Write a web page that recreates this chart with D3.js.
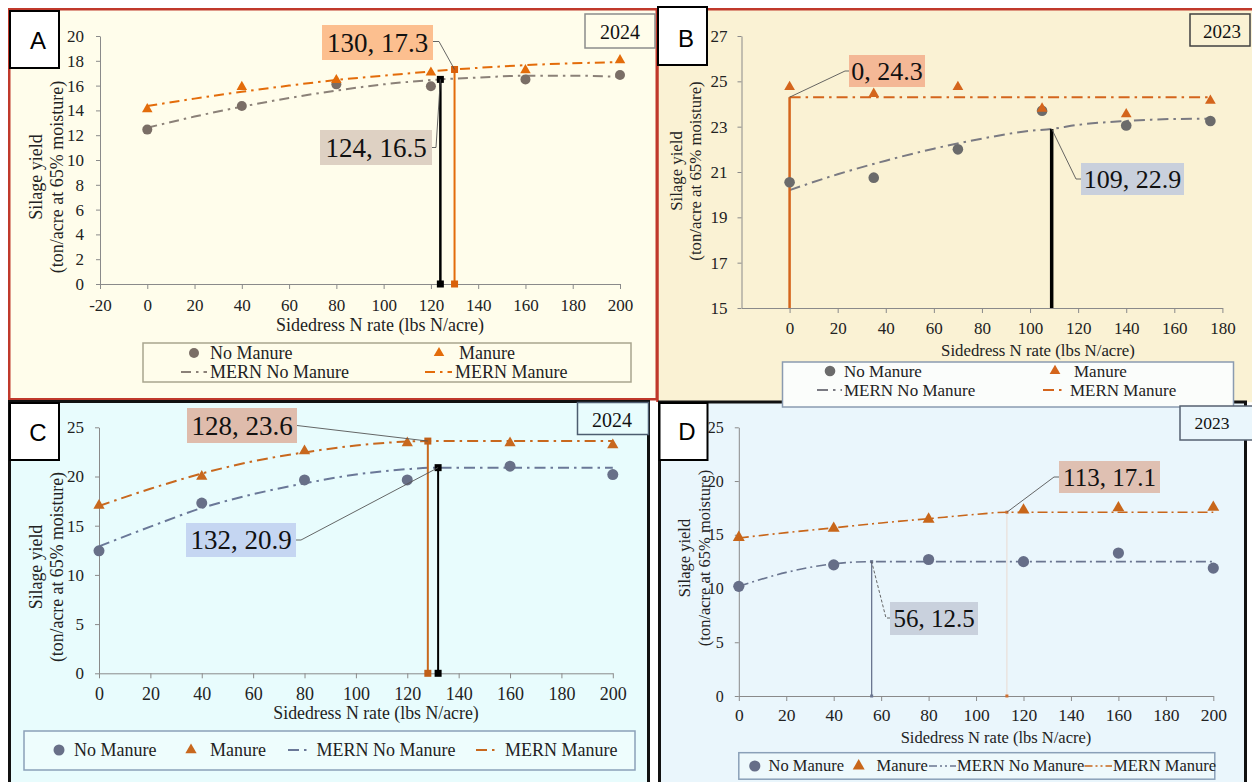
<!DOCTYPE html>
<html><head><meta charset="utf-8">
<script src="https://cdn.jsdelivr.net/npm/d3@7"></script>
<style>body{margin:0;background:#fff;} svg{display:block;} text{font-family:'Liberation Serif','Times New Roman',serif;}</style>
</head><body><svg id="c" width="1252" height="782"></svg>
<script>
// ---------------- DATA ----------------
// Panel A (2024)
const ratesA = [0, 40, 80, 120, 160, 200];
const noManureA = [12.45, 14.35, 16.1, 15.95, 16.5, 16.85];
const manureA = [14.1, 15.9, 16.45, 17.05, 17.25, 18.05];
const mernNoXA = [0, 20, 40, 60, 80, 100, 124, 140, 160, 180, 200];
const mernNoYA = [12.6, 13.5, 14.3, 15.0, 15.6, 16.1, 16.5, 16.65, 16.8, 16.8, 16.7];
const mernManXA = [0, 20, 40, 60, 80, 100, 130, 160, 200];
const mernManYA = [14.35, 14.95, 15.5, 16.0, 16.45, 16.8, 17.3, 17.65, 17.9];
const optNoA = [124, 16.5];
const optManA = [130, 17.3];
const xTicksA = [-20, 0, 20, 40, 60, 80, 100, 120, 140, 160, 180, 200];
const yTicksA = [0, 2, 4, 6, 8, 10, 12, 14, 16, 18, 20];

// Panel B (2023)
const ratesB = [0, 35, 70, 105, 140, 175];
const noManureB = [20.55, 20.75, 22.0, 23.7, 23.05, 23.25];
const manureB = [24.75, 24.45, 24.75, 23.8, 23.55, 24.15];
const mernNoXB = [0, 20, 40, 60, 80, 100, 109, 120, 140, 160, 175];
const mernNoYB = [20.2, 20.9, 21.5, 22.03, 22.47, 22.82, 22.9, 23.08, 23.25, 23.34, 23.35];
const mernManXB = [0, 175];
const mernManYB = [24.3, 24.3];
const optNoB = [109, 22.9];
const optManB = [0, 24.3];
const xTicksB = [0, 20, 40, 60, 80, 100, 120, 140, 160, 180];
const yTicksB = [15, 17, 19, 21, 23, 25, 27];

// Panel C (2024)
const ratesC = [0, 40, 80, 120, 160, 200];
const noManureC = [12.45, 17.3, 19.65, 19.65, 21.05, 20.2];
const manureC = [17.05, 20.0, 22.6, 23.4, 23.4, 23.2];
const mernNoXC = [0, 20, 40, 60, 80, 100, 120, 132, 160, 200];
const mernNoYC = [12.9, 14.9, 16.8, 18.2, 19.3, 20.2, 20.75, 20.9, 20.9, 20.9];
const mernManXC = [0, 20, 40, 60, 80, 100, 120, 128, 160, 200];
const mernManYC = [17.0, 18.75, 20.3, 21.55, 22.45, 23.15, 23.55, 23.6, 23.6, 23.6];
const optNoC = [132, 20.9];
const optManC = [128, 23.6];
const xTicksC = [0, 20, 40, 60, 80, 100, 120, 140, 160, 180, 200];
const yTicksC = [0, 5, 10, 15, 20, 25];

// Panel D (2023)
const ratesD = [0, 40, 80, 120, 160, 200];
const noManureD = [10.2, 12.2, 12.7, 12.5, 13.3, 11.9];
const manureD = [14.75, 15.6, 16.45, 17.3, 17.5, 17.55];
const mernNoXD = [0, 20, 40, 56, 80, 120, 160, 200];
const mernNoYD = [10.2, 11.5, 12.3, 12.5, 12.5, 12.5, 12.5, 12.5];
const mernManXD = [0, 20, 40, 60, 80, 100, 113, 140, 200];
const mernManYD = [14.7, 15.2, 15.65, 16.1, 16.5, 16.9, 17.1, 17.1, 17.1];
const optNoD = [56, 12.5];
const optManD = [113, 17.1];
const xTicksD = [0, 20, 40, 60, 80, 100, 120, 140, 160, 180, 200];
const yTicksD = [0, 5, 10, 15, 20, 25];

const legendNames = ["No Manure", "Manure", "MERN No Manure", "MERN Manure"];
const axisTitleX = "Sidedress N rate (lbs N/acre)";
const axisTitleY = ["Silage yield", "(ton/acre at 65% moisture)"];

// ---------------- DRAWING ----------------
const SERIF = "'Liberation Serif','Times New Roman',serif";
const SANS = "'Liberation Sans',Arial,sans-serif";
const svg = d3.select('#c');
svg.append('rect').attr('width', 1252).attr('height', 782).attr('fill', '#fff');

// frames
svg.append('rect').attr('x', 9.25).attr('y', 9.25).attr('width', 647.5).attr('height', 390)
  .attr('fill', '#fffdeb').attr('stroke', '#c0392b').attr('stroke-width', 2.5);
svg.append('rect').attr('x', 657.5).attr('y', 9.25).attr('width', 600).attr('height', 393)
  .attr('fill', '#faf2d4');
svg.append('path').attr('d', 'M657.5,402 V9.25 H1252').attr('fill', 'none')
  .attr('stroke', '#c0392b').attr('stroke-width', 2.5);
svg.append('rect').attr('x', 9.5).attr('y', 401.5).attr('width', 639).attr('height', 400)
  .attr('fill', '#e8fcfd').attr('stroke', '#111').attr('stroke-width', 3);
svg.append('rect').attr('x', 659.5).attr('y', 402).attr('width', 586).attr('height', 400)
  .attr('fill', '#eaf6fc').attr('stroke', '#111').attr('stroke-width', 3);

function drawPanel(P) {
  const g = svg.append('g');
  const x = d3.scaleLinear().domain(P.xDomain).range(P.xRange);
  const y = d3.scaleLinear().domain(P.yDomain).range(P.yRange);
  const ac = '#8a8a8a';
  const ya = g.append('g').attr('transform', `translate(${P.xRange[0]},0)`)
    .call(d3.axisLeft(y).tickValues(P.yTicks).tickSize(4).tickSizeOuter(0).tickPadding(P.yPad).tickFormat(d => String(d)));
  const xa = g.append('g').attr('transform', `translate(0,${P.yRange[0]})`)
    .call(d3.axisBottom(x).tickValues(P.xTicks).tickSize(5).tickSizeOuter(0).tickPadding(P.xPad).tickFormat(d => String(d)));
  [ya, xa].forEach(a => {
    a.attr('font-family', SERIF);
    a.select('.domain').attr('stroke', ac);
    a.selectAll('.tick line').attr('stroke', ac);
  });
  ya.selectAll('text').attr('font-family', SERIF).attr('font-size', P.yTickFs).attr('fill', '#222');
  xa.selectAll('text').attr('font-family', SERIF).attr('font-size', P.xTickFs).attr('fill', '#222');

  // axis titles
  g.append('text').attr('x', P.xTitle[0]).attr('y', P.xTitle[1]).attr('dy', '0.35em')
    .attr('text-anchor', 'middle').attr('font-family', SERIF).attr('font-size', P.titleFs)
    .attr('fill', '#222').text(axisTitleX);
  axisTitleY.forEach((t, i) => {
    g.append('text').attr('transform', `translate(${P.yTitleX[i]},${P.yTitleY}) rotate(-90)`)
      .attr('dy', '0.35em').attr('text-anchor', 'middle').attr('font-family', SERIF)
      .attr('font-size', P.titleFs).attr('fill', '#222').text(t);
  });

  // MERN curves
  const line = d3.line().x(d => x(d[0])).y(d => y(d[1])).curve(d3.curveMonotoneX);
  g.append('path').datum(d3.zip(P.mernNoX, P.mernNoY)).attr('d', line).attr('fill', 'none')
    .attr('stroke', P.noLine).attr('stroke-width', P.lw).attr('stroke-dasharray', P.dash);
  g.append('path').datum(d3.zip(P.mernManX, P.mernManY)).attr('d', line).attr('fill', 'none')
    .attr('stroke', P.manColor).attr('stroke-width', P.lw).attr('stroke-dasharray', P.dash);

  // vertical optimum lines
  const y0 = P.yDomain[0];
  const vlines = [
    { p: P.optMan, c: P.vManColor, w: P.vManW, sq: P.sqMan },
    { p: P.optNo, c: P.vNoColor, w: P.vNoW, sq: P.sqNo }
  ];
  vlines.forEach(v => {
    g.append('line').attr('x1', x(v.p[0])).attr('x2', x(v.p[0])).attr('y1', y(y0)).attr('y2', y(v.p[1]))
      .attr('stroke', v.c).attr('stroke-width', v.w);
  });

  // data markers
  g.selectAll('.nm').data(d3.zip(P.rates, P.noManure)).join('circle')
    .attr('cx', d => x(d[0])).attr('cy', d => y(d[1])).attr('r', P.r).attr('fill', P.noColor);
  const tri = d3.symbol().type(d3.symbolTriangle).size(P.triSize);
  g.selectAll('.mm').data(d3.zip(P.rates, P.manure)).join('path')
    .attr('transform', d => `translate(${x(d[0])},${y(d[1])})`).attr('d', tri).attr('fill', P.manColor);

  // square markers at ends of optimum lines
  vlines.forEach(v => {
    if (!v.sq) return;
    [[v.p[0], y0], v.p].forEach(pt => {
      g.append('rect').attr('x', x(pt[0]) - v.sq.s / 2).attr('y', y(pt[1]) - v.sq.s / 2)
        .attr('width', v.sq.s).attr('height', v.sq.s).attr('fill', v.sq.fill);
    });
  });

  // data labels
  const labels = [
    { p: P.optMan, box: P.boxMan, fill: P.boxManFill, lead: P.leadMan },
    { p: P.optNo, box: P.boxNo, fill: P.boxNoFill, lead: P.leadNo }
  ];
  labels.forEach(L => {
    const pts = L.lead.concat([[x(L.p[0]), y(L.p[1])]]);
    g.append('path').attr('d', d3.line()(pts)).attr('fill', 'none').attr('stroke', '#555')
      .attr('stroke-width', 0.9).attr('stroke-dasharray', L.lead.dash || null);
    const [bx, by, bw, bh] = L.box;
    g.append('rect').attr('x', bx).attr('y', by).attr('width', bw).attr('height', bh).attr('fill', L.fill);
    g.append('text').attr('x', bx + bw / 2).attr('y', by + bh / 2).attr('dy', '0.35em')
      .attr('text-anchor', 'middle').attr('font-family', SERIF).attr('font-size', P.labelFs)
      .attr('fill', '#111').text(`${L.p[0]}, ${L.p[1]}`);
  });

  // legend
  const Lg = P.legend;
  g.append('rect').attr('x', Lg.box[0]).attr('y', Lg.box[1]).attr('width', Lg.box[2]).attr('height', Lg.box[3])
    .attr('fill', Lg.fill).attr('stroke', Lg.stroke).attr('stroke-width', 1.5);
  const it = Lg.items;
  g.append('circle').attr('cx', it[0][0]).attr('cy', it[0][1]).attr('r', P.r).attr('fill', P.noColor);
  g.append('path').attr('transform', `translate(${it[1][0]},${it[1][1]})`).attr('d', tri).attr('fill', P.manColor);
  g.append('line').attr('x1', it[2][0]).attr('x2', it[2][2]).attr('y1', it[2][1]).attr('y2', it[2][1])
    .attr('stroke', P.noLine).attr('stroke-width', P.lw).attr('stroke-dasharray', Lg.dash);
  g.append('line').attr('x1', it[3][0]).attr('x2', it[3][2]).attr('y1', it[3][1]).attr('y2', it[3][1])
    .attr('stroke', P.manColor).attr('stroke-width', P.lw).attr('stroke-dasharray', Lg.dash);
  legendNames.forEach((n, i) => {
    g.append('text').attr('x', Lg.tx[i]).attr('y', it[i][1]).attr('dy', '0.33em')
      .attr('font-family', SERIF).attr('font-size', Lg.fs).attr('fill', '#222').text(n);
  });

  // panel letter & year
  const [lx, ly, lw2, lh] = P.letterBox;
  g.append('rect').attr('x', lx).attr('y', ly).attr('width', lw2).attr('height', lh)
    .attr('fill', '#fff').attr('stroke', '#000').attr('stroke-width', 2);
  g.append('text').attr('x', P.letterPos[0]).attr('y', P.letterPos[1]).attr('dy', '0.36em')
    .attr('text-anchor', 'middle').style('font-family', SANS).attr('font-size', 24).attr('fill', '#000').text(P.letter);
  const [yx, yy, yw, yh] = P.yearBox;
  g.append('rect').attr('x', yx).attr('y', yy).attr('width', yw).attr('height', yh)
    .attr('fill', P.yearFill).attr('stroke', P.yearStroke).attr('stroke-width', 1.5);
  g.append('text').attr('x', P.yearPos[0]).attr('y', P.yearPos[1]).attr('dy', '0.35em')
    .attr('text-anchor', 'middle').attr('font-family', SERIF).attr('font-size', P.yearFs).attr('fill', '#111').text(P.year);
}

// Panel A
drawPanel({
  letter: 'A', year: '2024',
  xDomain: [-20, 200], xRange: [100, 620], yDomain: [0, 20], yRange: [284, 36],
  xTicks: xTicksA, yTicks: yTicksA, yPad: 12, xPad: 10, xTickFs: 17, yTickFs: 17,
  xTitle: [380, 325], yTitleX: [36, 57], yTitleY: 177, titleFs: 18,
  rates: ratesA, noManure: noManureA, manure: manureA,
  mernNoX: mernNoXA, mernNoY: mernNoYA, mernManX: mernManXA, mernManY: mernManYA,
  optNo: optNoA, optMan: optManA,
  noColor: '#7a6e66', noLine: '#8b8178', manColor: '#e36c0a', lw: 2, dash: '10,5,2.5,5',
  r: 5, triSize: 48,
  vManColor: '#e36c0a', vManW: 2, vNoColor: '#000', vNoW: 2.5,
  sqMan: { s: 7, fill: '#d9600a' }, sqNo: { s: 7, fill: '#000' },
  boxMan: [322, 25, 111, 35], boxManFill: '#fcbf8f', leadMan: [[433, 41.5], [439, 41.5]],
  boxNo: [320, 130, 112, 35], boxNoFill: '#ded1c3', leadNo: [[432, 147.5], [436, 147.5]],
  labelFs: 27,
  legend: { box: [143, 343, 488, 39], fill: '#fffdeb', stroke: '#a9a58f', fs: 18, dash: '10,5,2.5,5',
    items: [[194, 353], [439, 353], [181, 372, 207], [425, 372, 452]], tx: [210, 459, 210, 455] },
  letterBox: [10, 11, 49, 57], letterPos: [38, 40],
  yearBox: [585, 14, 70, 34], yearPos: [620, 31.5], yearFs: 20, yearFill: '#fffdeb', yearStroke: '#8c8c8c'
});

// Panel B
drawPanel({
  letter: 'B', year: '2023',
  xDomain: [-20, 180], xRange: [741.5, 1222.4], yDomain: [15, 27], yRange: [308, 36],
  xTicks: xTicksB, yTicks: yTicksB, yPad: 10, xPad: 9, xTickFs: 17, yTickFs: 17,
  xTitle: [1038, 350], yTitleX: [676, 695], yTitleY: 171, titleFs: 16.8,
  rates: ratesB, noManure: noManureB, manure: manureB,
  mernNoX: mernNoXB, mernNoY: mernNoYB, mernManX: mernManXB, mernManY: mernManYB,
  optNo: optNoB, optMan: optManB,
  noColor: '#6b6b6b', noLine: '#7a7a82', manColor: '#d4651c', lw: 2, dash: '11,5,2.5,5',
  r: 5.3, triSize: 50,
  vManColor: '#d4651c', vManW: 2.5, vNoColor: '#000', vNoW: 3.5,
  sqMan: null, sqNo: null,
  boxMan: [849, 55, 76, 32], boxManFill: '#f4b896', leadMan: [[849, 71], [845, 71]],
  boxNo: [1081, 163, 103, 32], boxNoFill: '#c9d0dc', leadNo: [[1081, 179], [1076, 179]],
  labelFs: 26,
  legend: { box: [782.5, 362, 451, 45], fill: '#fbfdfb', stroke: '#8a9bb0', fs: 17, dash: '11,5,2.5,5',
    items: [[830, 371], [1055, 371], [817, 390, 842], [1043, 390, 1066]], tx: [844, 1074, 844, 1070] },
  letterBox: [658, 7, 49, 58], letterPos: [686, 38.5],
  yearBox: [1190, 14, 60, 32], yearPos: [1222, 31], yearFs: 19, yearFill: '#faf2d4', yearStroke: '#404040'
});

// Panel C
drawPanel({
  letter: 'C', year: '2024',
  xDomain: [0, 200], xRange: [99, 612.8], yDomain: [0, 25], yRange: [673.3, 427.3],
  xTicks: xTicksC, yTicks: yTicksC, yPad: 11, xPad: 9, xTickFs: 18, yTickFs: 17,
  xTitle: [376, 713], yTitleX: [36, 57], yTitleY: 567, titleFs: 17.8,
  rates: ratesC, noManure: noManureC, manure: manureC,
  mernNoX: mernNoXC, mernNoY: mernNoYC, mernManX: mernManXC, mernManY: mernManYC,
  optNo: optNoC, optMan: optManC,
  noColor: '#687088', noLine: '#6a7898', manColor: '#c8681e', lw: 2, dash: '11,5,2.5,5',
  r: 5.5, triSize: 55,
  vManColor: '#c8681e', vManW: 2, vNoColor: '#000', vNoW: 2,
  sqMan: { s: 7, fill: '#c05f18' }, sqNo: { s: 7, fill: '#000' },
  boxMan: [187, 408, 110, 35], boxManFill: '#dfbcac', leadMan: [[297, 425.5]],
  boxNo: [186, 523, 110, 34], boxNoFill: '#c5d6f2', leadNo: [[296, 540], [301, 540]],
  labelFs: 27,
  legend: { box: [24, 731, 611, 39], fill: '#eefdfd', stroke: '#8aa0b8', fs: 18, dash: '11,5,2.5,5',
    items: [[59, 750], [191, 750], [288, 750, 311], [476, 750, 499]], tx: [74, 210, 316.5, 505] },
  letterBox: [10, 403, 49, 57], letterPos: [38, 432],
  yearBox: [577.5, 402.5, 71, 32], yearPos: [612, 420], yearFs: 20, yearFill: '#e8fcfd', yearStroke: '#4d5d70'
});

// Panel D
drawPanel({
  letter: 'D', year: '2023',
  xDomain: [0, 200], xRange: [738.8, 1213.3], yDomain: [0, 25], yRange: [696, 427.3],
  xTicks: xTicksD, yTicks: yTicksD, yPad: 11, xPad: 8, xTickFs: 17.5, yTickFs: 16,
  xTitle: [996, 737], yTitleX: [684, 704.5], yTitleY: 558, titleFs: 16.5,
  rates: ratesD, noManure: noManureD, manure: manureD,
  mernNoX: mernNoXD, mernNoY: mernNoYD, mernManX: mernManXD, mernManY: mernManYD,
  optNo: optNoD, optMan: optManD,
  noColor: '#666e88', noLine: '#6a7590', manColor: '#c8661a', lw: 1.6, dash: '10,4,2,4',
  r: 5.6, triSize: 62,
  vManColor: '#eadad2', vManW: 1, vNoColor: '#6a7590', vNoW: 1.3,
  sqMan: { s: 3, fill: '#d07030' }, sqNo: { s: 3, fill: '#6a7590' },
  boxMan: [1059, 461, 101, 32], boxManFill: '#dfc0b2', leadMan: [[1059, 477], [1054, 477]],
  boxNo: [890, 602, 88, 33], boxNoFill: '#c9d1dd', leadNo: Object.assign([[890, 618], [886, 618]], { dash: '3,2' }),
  labelFs: 25,
  legend: { box: [738.8, 752.7, 476, 26.5], fill: '#eef9fc', stroke: '#8aa0b8', fs: 16.5, dash: '8,3,2,3,2,3',
    items: [[754.8, 766], [858.7, 766], [929, 766, 956], [1084.5, 766, 1112]], tx: [768.5, 876.6, 957, 1113] },
  letterBox: [659.5, 403, 48, 57], letterPos: [687, 431],
  yearBox: [1180, 406, 80, 34], yearPos: [1212, 423], yearFs: 17.5, yearFill: '#eaf6fc', yearStroke: '#556070'
});
</script></body></html>
